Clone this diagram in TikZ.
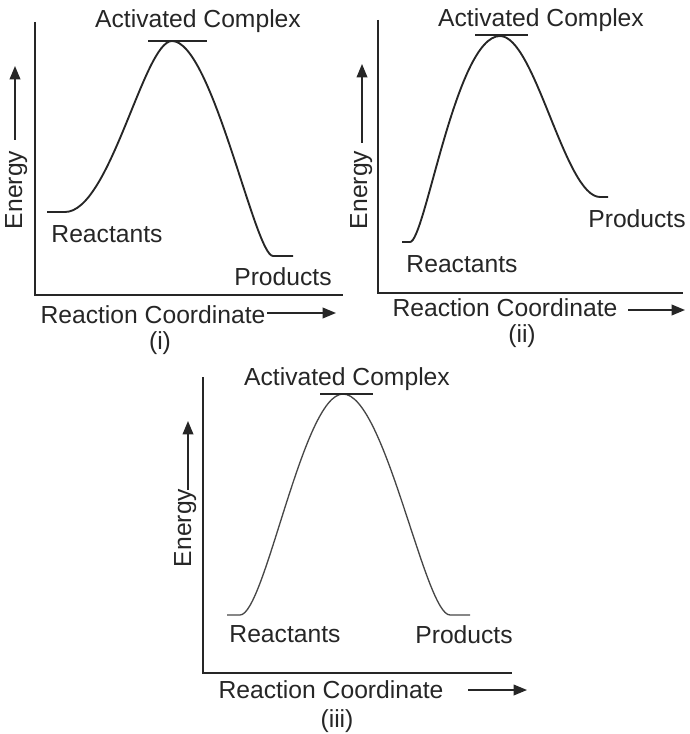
\documentclass[tikz,border=0pt]{standalone}
\usepackage{fontspec}
\setmainfont{Liberation Sans}
\usetikzlibrary{arrows.meta}
\definecolor{ink}{RGB}{38, 38, 38}
\tikzstyle{lbl}=[inner sep=0pt,anchor=base,text=ink,
  font=\fontsize{18.5}{20}\selectfont]
\tikzstyle{tag}=[inner sep=0pt,anchor=north,text=ink,
  font=\fontsize{18.5}{20}\selectfont]
\tikzstyle{axis}=[draw=ink,line width=1.6pt]
\tikzstyle{curve}=[draw=ink,line width=1.4pt]
\tikzstyle{pointer}=[draw=ink,line width=1.1pt,
  -{Triangle[length=10pt,width=8pt]}]

\begin{document}
\begin{tikzpicture}[x=0.75pt, y=-0.75pt]
    \useasboundingbox (0,0) rectangle (689,734);

    % (i)
    \coordinate (y1) at (35,22);
    \coordinate (o1) at (35,295);
    \coordinate (x1) at (343,295);
    \draw [axis] (y1) to (o1) to (x1);
    \coordinate (r1) at (47,212);
    \coordinate (r1e) at (65,212);
    \coordinate (t1) at (172,41);
    \coordinate (p1s) at (273,256);
    \coordinate (p1) at (293,256);
    \draw [curve] (r1) -- (r1e) .. controls +(45,0) and +(-28,0) .. (t1)
        .. controls +(40,0) and +(-18,0) .. (p1s) -- (p1);
    \draw [curve, line width=1.1pt] (t1) ++(-24,0) -- ++(59,0);
    \coordinate (e1a) at (15,140);
    \coordinate (e1b) at (15,66);
    \draw [pointer] (e1a) to (e1b);
    \coordinate (c1a) at (267,313);
    \coordinate (c1b) at (336,313);
    \draw [pointer] (c1a) to (c1b);
    \node [lbl, rotate=90] (en1) at (22,190) {Energy};
    \node [lbl] (ac1) at (198,28) {Activated Complex};
    \node [lbl] (re1) at (107,243) {Reactants};
    \node [lbl] (pr1) at (283,285) {Products};
    \node [lbl] (rc1) at (153,323) {Reaction Coordinate};
    \node [tag] (n1) at (160,331) {(i)};

    % (ii)
    \coordinate (y2) at (378,20);
    \coordinate (o2) at (378,293);
    \coordinate (x2) at (683,293);
    \draw [axis] (y2) to (o2) to (x2);
    \coordinate (r2) at (402,242);
    \coordinate (r2e) at (410,242);
    \coordinate (t2) at (500,36);
    \coordinate (p2s) at (600,197);
    \coordinate (p2) at (608,197);
    \draw [curve] (r2) -- (r2e) .. controls +(15,0) and +(-44,0) .. (t2)
        .. controls +(35,0) and +(-35,0) .. (p2s) -- (p2);
    \draw [curve, line width=1.1pt] (t2) ++(-25,-1) -- ++(53,0);
    \coordinate (e2a) at (362,143);
    \coordinate (e2b) at (362,64);
    \draw [pointer] (e2a) to (e2b);
    \coordinate (c2a) at (628,310);
    \coordinate (c2b) at (685,310);
    \draw [pointer] (c2a) to (c2b);
    \node [lbl, rotate=90] (en2) at (367,190) {Energy};
    \node [lbl] (ac2) at (541,27) {Activated Complex};
    \node [lbl] (re2) at (462,272) {Reactants};
    \node [lbl] (pr2) at (637,228) {Products};
    \node [lbl] (rc2) at (505,316) {Reaction Coordinate};
    \node [tag] (n2) at (522,324) {(ii)};

    % (iii)
    \coordinate (y3) at (203,377);
    \coordinate (o3) at (203,673);
    \coordinate (x3) at (512,673);
    \draw [axis] (y3) to (o3) to (x3);
    \coordinate (r3) at (227,615);
    \coordinate (r3e) at (240,615);
    \coordinate (t3) at (343,394);
    \coordinate (p3s) at (450,615);
    \coordinate (p3) at (470,615);
    \draw [curve, draw=ink!85, line width=1pt] (r3) -- (r3e)
        .. controls +(25,0) and +(-40,0) .. (t3)
        .. controls +(42,0) and +(-25,0) .. (p3s) -- (p3);
    \draw [curve, line width=1pt] (t3) ++(-23,0) -- ++(53,0);
    \coordinate (e3a) at (188,490);
    \coordinate (e3b) at (188,421);
    \draw [pointer] (e3a) to (e3b);
    \coordinate (c3a) at (468,690);
    \coordinate (c3b) at (527,690);
    \draw [pointer] (c3a) to (c3b);
    \node [lbl, rotate=90] (en3) at (191,528) {Energy};
    \node [lbl] (ac3) at (347,385) {Activated Complex};
    \node [lbl] (re3) at (285,642) {Reactants};
    \node [lbl] (pr3) at (464,643) {Products};
    \node [lbl] (rc3) at (331,698) {Reaction Coordinate};
    \node [tag] (n3) at (337,709) {(iii)};
\end{tikzpicture}
\end{document}
